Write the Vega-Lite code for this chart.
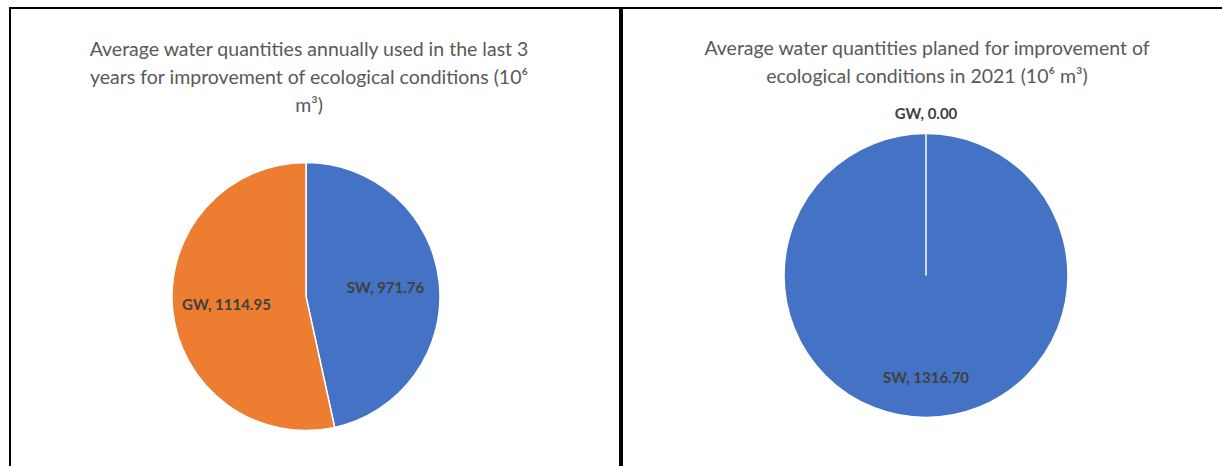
{
  "$schema": "https://vega.github.io/schema/vega-lite/v6.json",
  "padding": {"left": 9, "top": 7, "right": -4, "bottom": -3},
  "background": "white",
  "spacing": 0,
  "config": {
    "view": {"stroke": "black", "strokeWidth": 2},
    "font": "Lato",
    "title": {"font": "Lato", "fontSize": 19.5, "fontWeight": "normal", "color": "#595959", "lineHeight": 28, "anchor": "middle", "baseline": "top"}
  },
  "datasets": {
    "used": [
      {"source": "SW", "value": 971.76, "order": 1},
      {"source": "GW", "value": 1114.95, "order": 2}
    ],
    "planned": [
      {"source": "SW", "value": 1316.70, "order": 1},
      {"source": "GW", "value": 0.00, "order": 2}
    ]
  },
  "hconcat": [
    {
      "width": 610,
      "height": 461,
      "view": {"stroke": "black", "strokeWidth": 2},
      "data": {"name": "used"},
      "title": {
        "text": ["Average water quantities annually used in the last 3", "years for improvement of ecological conditions (10⁶", "m³)"],
        "dx": -6,
        "offset": -108
      },
      "transform": [{"calculate": "datum.source + ', ' + format(datum.value, '.2f')", "as": "label"}],
      "encoding": {
        "theta": {"field": "value", "type": "quantitative", "stack": true},
        "order": {"field": "order", "type": "ordinal"}
      },
      "layer": [
        {
          "mark": {"type": "arc", "outerRadius": 134, "stroke": "white", "strokeWidth": 1.5, "xOffset": -9, "yOffset": 58},
          "encoding": {
            "color": {"field": "source", "type": "nominal", "scale": {"domain": ["SW", "GW"], "range": ["#4472C4", "#ED7D31"]}, "legend": null}
          }
        },
        {
          "mark": {"type": "text", "radius": 80, "fontWeight": "bold", "fontSize": 15, "color": "#404040", "xOffset": -9, "yOffset": 58},
          "encoding": {
            "text": {"field": "label", "type": "nominal"},
            "detail": {"field": "source", "type": "nominal"}
          }
        }
      ]
    },
    {
      "width": 606,
      "height": 461,
      "view": {"stroke": "black", "strokeWidth": 2},
      "data": {"name": "planned"},
      "title": {
        "text": ["Average water quantities planed for improvement of", "ecological conditions in 2021 (10⁶ m³)"],
        "dx": 2,
        "offset": -79
      },
      "transform": [{"calculate": "datum.source + ', ' + format(datum.value, '.2f')", "as": "label"}],
      "encoding": {
        "theta": {"field": "value", "type": "quantitative", "stack": true},
        "order": {"field": "order", "type": "ordinal"}
      },
      "layer": [
        {
          "mark": {"type": "arc", "outerRadius": 142, "stroke": "white", "strokeWidth": 1.5, "xOffset": 1, "yOffset": 37},
          "encoding": {
            "color": {"field": "source", "type": "nominal", "scale": {"domain": ["SW", "GW"], "range": ["#4472C4", "#ED7D31"]}, "legend": null}
          }
        },
        {
          "transform": [{"filter": "datum.value > 0"}],
          "mark": {"type": "text", "radius": 102, "fontWeight": "bold", "fontSize": 15, "color": "#404040", "xOffset": 1, "yOffset": 37},
          "encoding": {
            "text": {"field": "label", "type": "nominal"},
            "detail": {"field": "source", "type": "nominal"}
          }
        },
        {
          "transform": [{"filter": "datum.value == 0"}],
          "mark": {"type": "text", "radius": 162, "fontWeight": "bold", "fontSize": 15, "color": "#404040", "xOffset": 1, "yOffset": 37},
          "encoding": {
            "text": {"field": "label", "type": "nominal"},
            "detail": {"field": "source", "type": "nominal"}
          }
        }
      ]
    }
  ]
}
